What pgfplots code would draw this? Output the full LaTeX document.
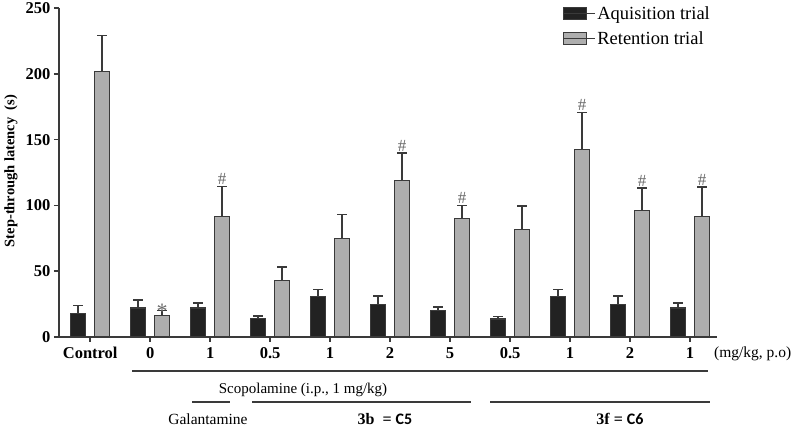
\documentclass[border=0pt]{standalone}
\usepackage{fontspec}
\setmainfont{Liberation Serif}
\newfontfamily\calib{Carlito}
\usepackage{pgfplots}
\pgfplotsset{compat=1.18}
\usepackage{pgfplotstable}

\definecolor{barblack}{HTML}{222222}
\definecolor{bargray}{HTML}{AEAEAE}
\definecolor{edge}{HTML}{3A3A3A}

% group, mean, error (plus only)
\pgfplotstableread{
x  y    e
0  18   6
1  22   6
2  22   4
3  14   2
4  31   5
5  25   6
6  20   3
7  13.7 2
8  31   5
9  25   6
10 22   4
}\acq
\pgfplotstableread{
x  y    e
0  202  27
1  16   4
2  91.5 23
3  43   10
4  75   18
5  119  21
6  90   10
7  81.5 18
8  142.5 28
9  96   17
10 91.5 22.5
}\ret

\begin{document}
\begin{tikzpicture}[x=1pt,y=1pt]
\path[use as bounding box] (0,0) rectangle (796,428);
\begin{axis}[
  at={(59pt,91pt)}, anchor=south west,
  scale only axis, width=658pt, height=329pt,
  xmin=-0.52, xmax=10.45, ymin=0, ymax=250,
  axis lines*=left,
  axis line style={draw=edge, line width=1.5pt},
  ybar,
  xtick={0,...,10},
  xticklabels={Control,0,1,0.5,1,2,5,0.5,1,2,1},
  ytick={0,50,100,150,200,250},
  tick style={draw=edge, line width=1.5pt},
  tick align=outside, major tick length=5pt,
  /pgf/number format/assume math mode=true,
  ticklabel style={font=\fontsize{16.5}{18}\selectfont\bfseries},
  xticklabel style={yshift=-2pt},
  legend style={draw=none, fill=none, at={(axis description cs:0.766,1.012)},
    anchor=north west, inner sep=0pt, row sep=7pt,
    font=\fontsize{18.5}{20}\selectfont},
  legend cell align=left,
  legend image code/.code={\draw[#1, line width=1pt] (0pt,-6pt) rectangle (23pt,6pt);
    \path (0pt,0pt) -- (31pt,0pt);},
  error bars/y dir=plus, error bars/y explicit,
  error bars/error bar style={draw=edge, line width=1.6pt},
  error bars/error mark options={draw=edge, line width=1.6pt, mark size=5pt, rotate=90},
]
\addplot[fill=barblack, draw=edge, line width=1.1pt, bar width=15pt, bar shift=-12pt]
  table[x=x, y=y, y error plus=e] {\acq};
\addlegendentry{Aquisition trial}
\addplot[fill=bargray, draw=edge, line width=1.1pt, bar width=15pt, bar shift=12pt]
  table[x=x, y=y, y error plus=e] {\ret};
\addlegendentry{Retention trial}

\begin{scope}[every node/.style={font=\fontsize{17}{18}\selectfont, text=edge!75, anchor=south, inner sep=1.5pt}]
\node[font=\fontsize{22}{22}\selectfont, inner sep=0pt] at (axis cs:1.2,14) {*};
\node at (axis cs:2.2,114.5) {\#};
\node at (axis cs:5.2,140) {\#};
\node at (axis cs:6.2,100) {\#};
\node at (axis cs:8.2,170.5) {\#};
\node at (axis cs:9.2,113) {\#};
\node at (axis cs:10.2,114) {\#};
\end{scope}
\end{axis}

% y label
\node[rotate=90, font=\fontsize{14.5}{16}\selectfont\bfseries] at (11,257) {Step-through latency\ \ (s)};
% unit label
\node[anchor=west, font=\fontsize{15.5}{17}\selectfont, inner sep=0pt] at (714,74) {(mg/kg, p.o)};
% group lines
\draw[edge, line width=1.4pt] (132,57) -- (708,57);
\node[font=\fontsize{15}{17}\selectfont] at (303,38) {Scopolamine (i.p., 1 mg/kg)};
\draw[edge, line width=1.4pt] (192,26) -- (230,26);
\draw[edge, line width=1.4pt] (252,26) -- (471,26);
\draw[edge, line width=1.4pt] (490,26) -- (710,26);
\node[font=\fontsize{15.5}{17}\selectfont] at (208,9) {Galantamine};
\node[font=\fontsize{16}{17}\selectfont\bfseries] at (385,9) {3b\ \ = {\calib C5}};
\node[font=\fontsize{16}{17}\selectfont\bfseries] at (620,9) {3f = {\calib C6}};
\end{tikzpicture}
\end{document}
